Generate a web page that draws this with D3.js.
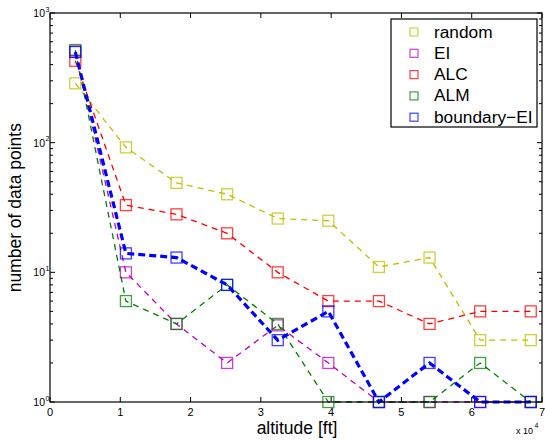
<!DOCTYPE html>
<html>
<head>
<meta charset="utf-8">
<script src="https://cdn.jsdelivr.net/npm/d3@7"></script>
<style>
  html, body { margin: 0; padding: 0; background: #fff; }
  svg { display: block; font-family: "Liberation Sans", Arial, Helvetica, sans-serif; }
</style>
</head>
<body>
<svg id="chart" width="545" height="441"></svg>
<script>
// altitude of each measurement bin (ft)
const altitudes = [3600, 10800, 18000, 25200, 32400, 39600, 46800, 54000, 61200, 68400];

// number of data points chosen per altitude bin, one array per method
const randomCounts     = [287, 92, 49, 40, 26, 25, 11, 13, 3, 3];
const eiCounts         = [505, 10, 4, 2, 3.9, 2, 1, 1, 1, 1];
const alcCounts        = [428, 33, 28, 20, 10, 6, 6, 4, 5, 5];
const almCounts        = [518, 6, 4, 8, 4, 1, 1, 1, 2, 1];
const boundaryEiCounts = [500, 14, 13, 8, 3, 5, 1, 2, 1, 1];

const seriesNames  = ["random", "EI", "ALC", "ALM", "boundary\u2212EI"];
const seriesColors = ["#bfbf00", "#bf00bf", "#ff0000", "#008000", "#0000ff"];
const seriesValues = [randomCounts, eiCounts, alcCounts, almCounts, boundaryEiCounts];

const xTickValues = [0, 1, 2, 3, 4, 5, 6, 7];   // in units of 10^4 ft
const yDecades = [0, 1, 2, 3];

const svg = d3.select("#chart");
const plotLeft = 50, plotRight = 542, plotTop = 13, plotBottom = 402;

const x = d3.scaleLinear().domain([0, 70000]).range([plotLeft, plotRight]);
const y = d3.scaleLog().domain([1, 1000]).range([plotBottom, plotTop]);

// series: dashed lines with open square markers
const line = d3.line().x((d, i) => x(altitudes[i])).y(d => y(d));
seriesValues.forEach((vals, s) => {
  const g = svg.append("g");
  const thick = s === 4;
  g.append("path")
    .attr("d", line(vals))
    .attr("fill", "none")
    .attr("stroke", seriesColors[s])
    .attr("stroke-width", thick ? 3.2 : 1.3)
    .attr("stroke-dasharray", thick ? "7,4" : "6,5");
  g.selectAll("rect").data(vals).enter().append("rect")
    .attr("x", (d, i) => x(altitudes[i]) - 5.5)
    .attr("y", d => y(d) - 5.5)
    .attr("width", 11).attr("height", 11)
    .attr("fill", "none")
    .attr("stroke", seriesColors[s])
    .attr("stroke-opacity", 0.75)
    .attr("stroke-width", 1.3);
});

// axes box
const ax = svg.append("g");
ax.append("rect")
  .attr("x", plotLeft).attr("y", plotTop)
  .attr("width", plotRight - plotLeft).attr("height", plotBottom - plotTop)
  .attr("fill", "none").attr("stroke", "#000").attr("stroke-width", 1.2);

// x ticks (bottom and top, pointing inward)
xTickValues.forEach(t => {
  const px = x(t * 1e4);
  ax.append("line").attr("x1", px).attr("x2", px).attr("y1", plotBottom).attr("y2", plotBottom - 5)
    .attr("stroke", "#000");
  ax.append("line").attr("x1", px).attr("x2", px).attr("y1", plotTop).attr("y2", plotTop + 5)
    .attr("stroke", "#000");
  ax.append("text").attr("x", px).attr("y", plotBottom + 14)
    .attr("text-anchor", "middle").attr("font-size", 11).text(t);
});

// y ticks: major at decades, minor at 2..9
yDecades.forEach(p => {
  const v = Math.pow(10, p);
  const py = y(v);
  ax.append("line").attr("x1", plotLeft).attr("x2", plotLeft + 5).attr("y1", py).attr("y2", py).attr("stroke", "#000");
  ax.append("line").attr("x1", plotRight).attr("x2", plotRight - 5).attr("y1", py).attr("y2", py).attr("stroke", "#000");
  ax.append("text").attr("x", plotLeft - 5).attr("y", py + 4)
    .attr("text-anchor", "end").attr("font-size", 10.5).text("10");
  ax.append("text").attr("x", plotLeft - 4.5).attr("y", py - 1.5)
    .attr("text-anchor", "start").attr("font-size", 7).text(p);
  if (p < 3) {
    for (let m = 2; m <= 9; m++) {
      const my = y(m * v);
      ax.append("line").attr("x1", plotLeft).attr("x2", plotLeft + 3).attr("y1", my).attr("y2", my).attr("stroke", "#000");
      ax.append("line").attr("x1", plotRight).attr("x2", plotRight - 3).attr("y1", my).attr("y2", my).attr("stroke", "#000");
    }
  }
});

// axis labels
svg.append("text").attr("x", 297).attr("y", 433.5)
  .attr("text-anchor", "middle").attr("font-size", 17.5).text("altitude [ft]");
svg.append("text")
  .attr("transform", `translate(21,207.7) rotate(-90)`)
  .attr("text-anchor", "middle").attr("font-size", 17.5).text("number of data points");

// exponent multiplier for x axis
svg.append("text").attr("x", 516).attr("y", 433.5).attr("font-size", 9).text("x 10");
svg.append("text").attr("x", 534.5).attr("y", 427.5).attr("font-size", 7).text("4");

// legend
const lg = svg.append("g");
lg.append("rect").attr("x", 391).attr("y", 19).attr("width", 146).attr("height", 108)
  .attr("fill", "#fff").attr("stroke", "#000").attr("stroke-width", 1.2);
seriesNames.forEach((name, i) => {
  const cy = 32 + i * 21.3;
  lg.append("rect").attr("x", 410).attr("y", cy - 4).attr("width", 8).attr("height", 8)
    .attr("fill", "none").attr("stroke", seriesColors[i]).attr("stroke-opacity", 0.75).attr("stroke-width", 1.2);
  lg.append("text").attr("x", 434).attr("y", cy + 5.5).attr("font-size", 17.3).text(name);
});
</script>
</body>
</html>
